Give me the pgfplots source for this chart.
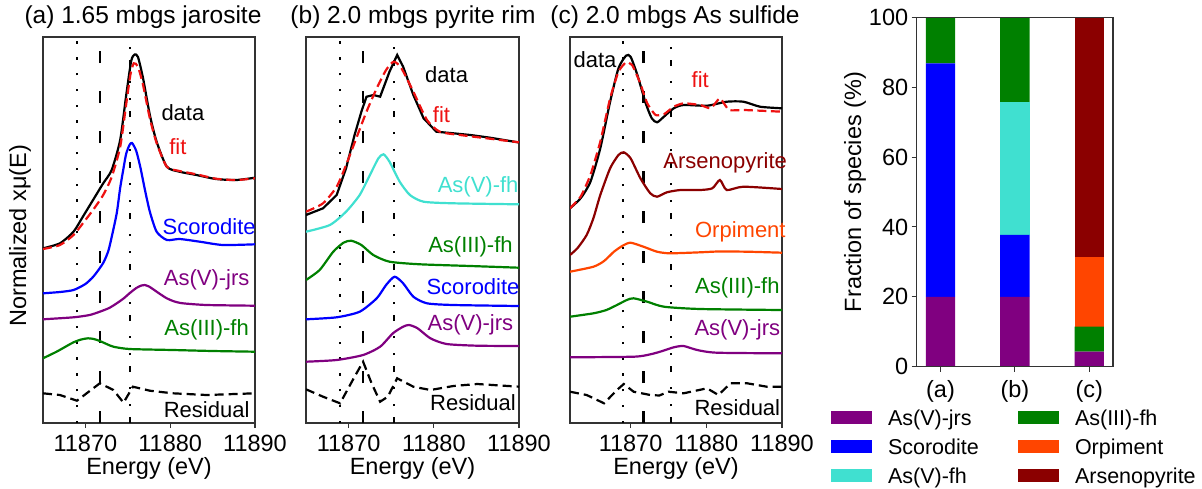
\documentclass[border=0pt]{standalone}
\usepackage{fontspec}
\setmainfont{Liberation Sans}
\usepackage{pgfplots}
\pgfplotsset{compat=1.18}

\definecolor{cjrs}{HTML}{800080}
\definecolor{cscor}{HTML}{0000FF}
\definecolor{cvfh}{HTML}{40E0D0}
\definecolor{ciiifh}{HTML}{008000}
\definecolor{corp}{HTML}{FF4500}
\definecolor{carsp}{HTML}{8B0000}
\definecolor{cfit}{HTML}{EE1111}
\definecolor{frame}{HTML}{333333}

\newcommand{\fsT}{\fontsize{24.5}{29}\selectfont}
\newcommand{\fsK}{\fontsize{23.5}{28}\selectfont}
\newcommand{\fsA}{\fontsize{22}{26}\selectfont}
\newcommand{\fsL}{\fontsize{21.5}{25}\selectfont}
\newcommand{\lgd}[1]{\makebox[114pt][l]{#1}}

\tikzset{
  vdot/.style={black, line width=2.2pt, dash pattern=on 2.5pt off 13.3pt},
  vdash/.style={black, line width=2.2pt, dash pattern=on 12pt off 28pt},
  vdd/.style={black, line width=2.2pt, dash pattern=on 6pt off 11pt on 2.5pt off 14.5pt on 2.5pt off 14.5pt},
  fitline/.style={cfit, dash pattern=on 9pt off 4.5pt},
  resline/.style={black, sharp plot, dash pattern=on 9pt off 5pt},
  lab/.style={font=\fsA, anchor=center},
}

\pgfplotsset{
  xanes/.style={
    scale only axis, height=386pt,
    ymin=0, ymax=386, xmax=11890,
    xtick={11870,11880,11890}, xticklabels={11870,11880,11890},
    scaled x ticks=false,
    ytick=\empty, xtick pos=bottom, tick align=outside,
    major tick length=5pt,
    axis line style={frame, line width=1.1pt},
    every tick/.style={frame, line width=1.1pt},
    tick label style={font=\fsK, text=black},
    xticklabel style={yshift=-4pt},
    xlabel={Energy (eV)},
    xlabel style={font=\fsK, at={(axis description cs:0.5,-0.1166)}, anchor=center},
    clip mode=individual,
    every axis plot/.append style={line width=2.2pt},
  },
  swatch/.style={legend image code/.code={\fill[##1] (0pt,-4pt) rectangle (41pt,9pt);}},
}

\begin{document}
\begin{tikzpicture}

% ---------------- (a) 1.65 mbgs jarosite ----------------
\begin{axis}[xanes, at={(43pt,-423pt)}, anchor=south west,
  width=212pt, xmin=11865,
  ylabel={Normalized xμ(E)},
  ylabel style={font=\fsK, at={(axis description cs:-0.1085,0.485)}, anchor=center}]
\addplot[vdot] coordinates {(11869.0,0) (11869.0,386)};
\addplot[vdash] coordinates {(11871.7,0) (11871.7,386)};
\addplot[vdd] coordinates {(11875.3,0) (11875.3,386)};
% data
\addplot[black, smooth, tension=0.4] table {
11865.0 174.7
11867.0 179.7
11868.6 191.3
11869.7 206.3
11870.9 223.0
11872.1 239.7
11873.1 253.0
11874.1 283.0
11874.8 327.0
11875.4 362.0
11875.8 368.5
11876.2 366.0
11876.8 344.7
11877.6 308.0
11878.4 281.3
11879.6 256.3
11881.1 251.3
11883.1 248.0
11885.4 244.0
11887.8 243.0
11890.0 245.3
};
% fit
\addplot[fitline, smooth, tension=0.4] table {
11865.0 174.0
11867.0 178.0
11868.6 188.0
11869.7 199.7
11870.9 213.0
11872.1 228.0
11873.1 246.0
11874.1 276.0
11874.8 318.0
11875.3 348.0
11875.7 359.7
11876.2 356.3
11876.8 338.0
11877.6 304.7
11878.4 280.0
11879.6 256.3
11881.1 252.0
11883.1 248.7
11885.4 244.3
11887.8 243.0
11890.0 244.7
};
% Scorodite
\addplot[cscor, smooth, tension=0.4] table {
11865.0 129.7
11867.0 131.0
11868.6 133.0
11870.0 139.0
11871.0 147.0
11872.1 160.0
11872.7 172.0
11873.1 186.0
11873.7 210.0
11874.1 235.0
11874.5 255.0
11874.8 269.0
11875.2 278.0
11875.5 280.0
11876.0 272.0
11876.5 255.0
11877.0 234.0
11877.6 211.3
11878.4 191.3
11879.6 183.0
11881.1 184.0
11883.5 181.3
11886.2 178.0
11890.0 178.7
};
% As(V)-jrs
\addplot[cjrs, smooth, tension=0.4] table {
11865.0 103.7
11868.6 105.7
11870.5 108.0
11871.7 111.3
11872.8 115.0
11873.7 119.7
11874.5 124.5
11875.2 129.7
11876.0 135.0
11876.6 137.5
11877.0 138.0
11877.5 136.5
11878.0 133.7
11878.8 129.0
11879.6 124.7
11880.5 121.5
11881.5 119.7
11884.3 118.0
11890.0 117.3
};
% As(III)-fh
\addplot[ciiifh, smooth, tension=0.4] table {
11865.0 64.7
11866.6 71.3
11867.8 77.0
11868.6 80.7
11869.5 83.5
11870.3 84.7
11871.0 84.0
11871.7 82.0
11872.5 79.0
11873.3 76.3
11875.2 74.0
11880.3 73.0
11885.0 72.0
11890.0 71.3
};
% residual
\addplot[resline] table {
11865.0 29.7
11867.0 28.0
11869.0 22.3
11871.7 39.7
11873.3 33.0
11874.5 20.3
11875.6 36.3
11877.6 32.3
11880.3 29.7
11884.3 28.0
11890.0 29.7
};
\node[lab, black]  at (axis cs:11881.5,310) {data};
\node[lab, cfit]   at (axis cs:11880.9,276) {fit};
\node[lab, cscor]  at (axis cs:11884.6,196) {Scorodite};
\node[lab, cjrs]   at (axis cs:11884.3,143) {As(V)-jrs};
\node[lab, ciiifh] at (axis cs:11884.3,93) {As(III)-fh};
\node[lab, black]  at (axis cs:11884.3,13) {Residual};
\end{axis}
\node[font=\fsT] at (143pt,-17pt) {(a) 1.65 mbgs jarosite};

% ---------------- (b) 2.0 mbgs pyrite rim ----------------
\begin{axis}[xanes, at={(306pt,-423pt)}, anchor=south west,
  width=213pt, xmin=11865]
\addplot[vdot] coordinates {(11869.0,0) (11869.0,386)};
\addplot[vdash] coordinates {(11871.7,0) (11871.7,386)};
\addplot[vdd] coordinates {(11875.3,0) (11875.3,386)};
% data
\addplot[black, sharp plot] table {
11865.0 208.0
11867.0 214.7
11868.6 228.0
11869.7 254.7
11870.7 288.0
11871.5 311.3
11872.1 326.3
11872.9 328.0
11873.7 326.3
11874.8 351.3
11875.7 368.0
11876.4 356.3
11877.6 328.0
11878.8 304.7
11880.3 291.3
11882.3 289.7
11884.3 288.0
11886.6 285.3
11890.0 280.5
};
% fit
\addplot[fitline, smooth, tension=0.4] table {
11865.0 211.3
11867.0 219.7
11868.6 236.3
11869.7 258.0
11870.9 284.7
11872.1 311.3
11873.3 334.7
11874.4 353.0
11875.3 361.3
11876.2 354.7
11877.6 331.3
11879.2 303.0
11880.7 291.3
11883.1 288.0
11886.2 284.7
11890.0 280.7
};
% As(V)-fh
\addplot[cvfh, smooth, tension=0.4] table {
11865.0 191.3
11867.8 198.0
11869.7 211.3
11871.3 228.0
11872.5 248.0
11873.5 264.7
11874.1 268.7
11874.8 261.3
11876.0 241.3
11877.2 228.0
11878.8 221.3
11882.3 219.7
11890.0 218.7
};
% As(III)-fh
\addplot[ciiifh, smooth, tension=0.4] table {
11865.0 143.0
11866.6 153.0
11868.2 171.3
11869.4 180.3
11870.3 182.3
11871.5 178.0
11872.9 168.0
11874.8 161.3
11878.4 158.7
11884.3 157.0
11890.0 155.3
};
% Scorodite
\addplot[cscor, smooth, tension=0.4] table {
11865.0 103.7
11868.6 105.7
11871.3 111.3
11873.3 124.7
11874.4 138.0
11875.4 146.3
11876.4 139.7
11877.6 126.3
11879.2 119.7
11882.3 118.0
11890.0 117.0
};
% As(V)-jrs
\addplot[cjrs, smooth, tension=0.4] table {
11865.0 61.3
11868.6 63.0
11871.7 68.0
11873.7 76.3
11875.2 89.7
11876.4 96.3
11877.1 98.0
11878.1 94.7
11879.6 84.7
11881.5 79.0
11885.1 77.3
11890.0 77.0
};
% residual
\addplot[resline] table {
11865.0 33.7
11867.0 26.3
11869.0 19.7
11870.7 46.3
11871.7 61.3
11872.7 39.7
11873.7 21.3
11874.6 26.3
11875.7 44.7
11877.6 36.3
11879.6 33.0
11882.3 37.0
11885.1 39.0
11890.0 36.3
};
\node[lab, black]  at (axis cs:11881.5,348) {data};
\node[lab, cfit]   at (axis cs:11880.9,308) {fit};
\node[lab, cvfh]   at (axis cs:11885.2,236) {As(V)-fh};
\node[lab, ciiifh] at (axis cs:11884.3,176) {As(III)-fh};
\node[lab, cscor]  at (axis cs:11884.6,136) {Scorodite};
\node[lab, cjrs]   at (axis cs:11884.3,98) {As(V)-jrs};
\node[lab, black]  at (axis cs:11884.6,20) {Residual};
\end{axis}
\node[font=\fsT] at (413pt,-17pt) {(b) 2.0 mbgs pyrite rim};

% ---------------- (c) 2.0 mbgs As sulfide ----------------
\begin{axis}[xanes, at={(570pt,-423pt)}, anchor=south west,
  width=212pt, xmin=11862]
\addplot[vdot] coordinates {(11869.0,0) (11869.0,386)};
\addplot[vdash] coordinates {(11871.7,0) (11871.7,386)};
\addplot[vdd] coordinates {(11875.3,0) (11875.3,386)};
\node[lab, black]  at (axis cs:11865.3,363) {data};
% data
\addplot[black, smooth, tension=0.4] table {
11862.0 214.7
11863.4 224.7
11864.7 241.3
11866.0 274.7
11867.3 321.3
11868.4 354.7
11869.4 367.3
11870.0 366.3
11870.9 348.0
11872.0 319.7
11872.8 304.7
11873.5 300.7
11874.4 306.3
11875.7 314.7
11877.0 318.0
11880.1 317.3
11882.7 321.3
11884.9 321.3
11887.1 316.3
11890.0 314.7
};
% fit
\addplot[fitline, smooth, tension=0.3] table {
11862.0 214.7
11863.4 226.3
11864.7 248.0
11866.0 281.3
11867.3 324.7
11868.4 351.3
11869.4 360.7
11870.2 358.0
11871.2 341.3
11872.2 319.7
11873.3 308.0
11874.4 308.7
11875.7 316.3
11877.0 319.7
11879.2 318.0
11880.6 314.7
11881.8 324.7
11883.0 313.0
11885.0 313.0
11890.0 311.3
};
% Arsenopyrite
\addplot[carsp, smooth, tension=0.4] table {
11862.0 168.0
11863.0 175.0
11864.2 188.0
11865.1 205.0
11866.0 228.0
11867.3 254.7
11868.4 268.0
11869.1 270.7
11870.0 264.7
11871.3 244.7
11872.6 229.7
11873.5 226.3
11874.8 230.7
11876.6 233.0
11879.2 233.0
11880.8 234.7
11881.8 243.0
11882.7 233.0
11884.9 236.3
11890.0 234.0
};
% Orpiment
\addplot[corp, smooth, tension=0.4] table {
11862.0 151.3
11865.1 156.3
11866.5 162.0
11867.8 171.3
11869.0 177.5
11870.0 180.3
11871.7 176.3
11873.5 171.3
11875.2 169.7
11879.2 170.7
11881.6 171.5
11885.4 171.3
11890.0 170.3
};
% As(III)-fh
\addplot[ciiifh, smooth, tension=0.4] table {
11862.0 106.3
11865.1 109.7
11866.8 113.0
11868.2 118.0
11869.5 123.0
11870.4 124.7
11872.2 121.3
11874.4 116.3
11879.2 114.0
11890.0 113.0
};
% As(V)-jrs
\addplot[cjrs, smooth, tension=0.4] table {
11862.0 65.7
11870.4 66.3
11872.5 68.5
11873.9 71.3
11875.7 75.7
11877.0 77.0
11878.8 73.0
11881.4 70.3
11890.0 69.7
};
% residual
\addplot[resline] table {
11862.0 31.3
11864.2 28.0
11866.5 19.7
11868.2 33.0
11869.1 39.0
11870.4 31.3
11872.6 28.0
11873.8 27.5
11875.0 31.3
11877.0 29.7
11880.1 34.7
11881.6 28.0
11883.2 39.7
11885.4 39.7
11888.0 36.3
11890.0 36.3
};
\node[lab, cfit]   at (axis cs:11879.2,343) {fit};
\node[lab, carsp]  at (axis cs:11882.5,260) {Arsenopyrite};
\node[lab, corp]   at (axis cs:11884.5,191) {Orpiment};
\node[lab, ciiifh] at (axis cs:11884.1,135) {As(III)-fh};
\node[lab, cjrs]   at (axis cs:11884.1,93) {As(V)-jrs};
\node[lab, black]  at (axis cs:11884.1,15) {Residual};
\end{axis}
\node[font=\fsT] at (675pt,-17pt) {(c) 2.0 mbgs As sulfide};

% ---------------- species fractions ----------------
\begin{axis}[at={(916.7pt,-366.7pt)}, anchor=south west,
  scale only axis, width=196.3pt, height=349.4pt,
  ybar stacked, bar width=29.3pt,
  xmin=-0.32, xmax=2.32, ymin=0, ymax=100,
  xtick={0,1,2}, xticklabels={(a),(b),(c)},
  ytick={0,20,40,60,80,100},
  xtick pos=bottom, ytick pos=left, tick align=outside,
  major tick length=5pt,
  axis line style={frame, line width=1.1pt},
  every tick/.style={frame, line width=1.1pt},
  tick label style={font=\fsK, text=black},
  xticklabel style={yshift=-5pt},
  /pgf/number format/assume math mode=true,
  ylabel={Fraction of species (\%)},
  ylabel style={font=\fsK, at={(axis description cs:-0.314,0.5)}, anchor=center},
  axis on top,
  legend columns=2,
  legend cell align=left,
  legend style={draw=none, fill=none, inner sep=0pt, outer sep=0pt,
    at={(axis description cs:-0.4366,-0.1211)}, anchor=north west,
    font=\fsL, column sep=16pt, row sep=8pt,
    nodes={inner sep=0pt, text height=16pt, text depth=5pt}},
]
\addplot[fill=cjrs, draw=none, forget plot] coordinates {(0,20) (1,20) (2,4.3)};
\addplot[fill=cscor, draw=none, forget plot] coordinates {(0,66.8) (1,17.7) (2,0)};
\addplot[fill=cvfh, draw=none, forget plot] coordinates {(0,0) (1,38) (2,0)};
\addplot[fill=ciiifh, draw=none, forget plot] coordinates {(0,13.2) (1,24.3) (2,7.2)};
\addplot[fill=corp, draw=none, forget plot] coordinates {(0,0) (1,0) (2,20)};
\addplot[fill=carsp, draw=none, forget plot] coordinates {(0,0) (1,0) (2,68.5)};
\addlegendimage{swatch, fill=cjrs, draw=none}
\addlegendentry{\lgd{As(V)-jrs}}
\addlegendimage{swatch, fill=ciiifh, draw=none}
\addlegendentry{\lgd{As(III)-fh}}
\addlegendimage{swatch, fill=cscor, draw=none}
\addlegendentry{\lgd{Scorodite}}
\addlegendimage{swatch, fill=corp, draw=none}
\addlegendentry{\lgd{Orpiment}}
\addlegendimage{swatch, fill=cvfh, draw=none}
\addlegendentry{\lgd{As(V)-fh}}
\addlegendimage{swatch, fill=carsp, draw=none}
\addlegendentry{\lgd{Arsenopyrite}}
\end{axis}

\pgfresetboundingbox
\path[use as bounding box] (0pt,0pt) rectangle (1202pt,-488pt);
\end{tikzpicture}
\end{document}
